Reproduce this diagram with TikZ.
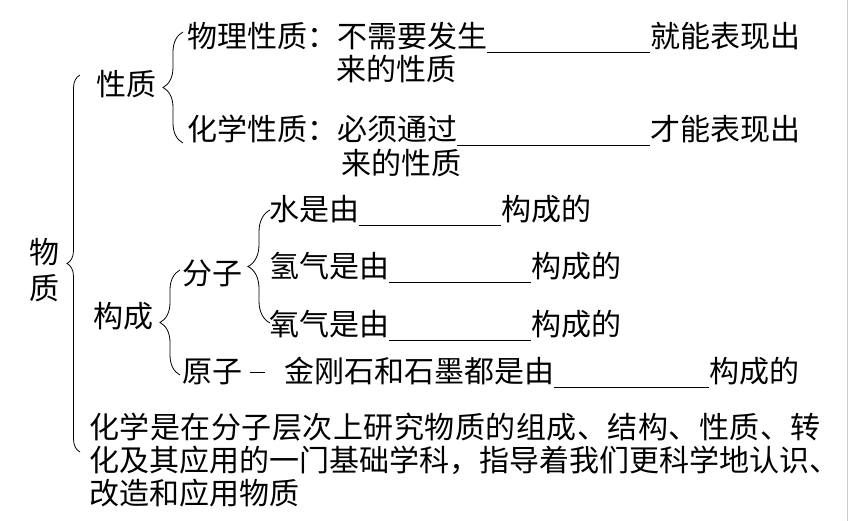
\documentclass[tikz,border=0pt]{standalone}
\usepackage{fontspec}
\newfontfamily\cjk{Noto Sans CJK SC}
\usetikzlibrary{decorations.pathreplacing,positioning}
\newcommand{\blank}[1]{\rule[-5pt]{#1pt}{0.8pt}}

\begin{document}
\begin{tikzpicture}[
  x=1pt, y=1pt,
  txt/.style={inner sep=0pt, anchor=base west, font=\cjk\fontsize{30}{33}\selectfont},
  brc/.style={decorate, decoration={brace, amplitude=#1}, line width=0.8pt},
  >=stealth
]
  \useasboundingbox (0,0) rectangle (854,521);

  % root and first level
  \node[txt, anchor=center, align=center, font=\cjk\fontsize{30}{36}\selectfont] (wz) at (44,251) {物\\质};
  \node[txt] (xz) at (96,425) {性质};
  \node[txt] (gc) at (93,193) {构成};

  % properties
  \node[txt] (wl) at (187,473) {物理性质：不需要发生\blank{163}就能表现出};
  \node[txt] (wl2) at (336,440) {来的性质};
  \node[txt] (hx) at (187,380) {化学性质：必须通过\blank{193}才能表现出};
  \node[txt] (hx2) at (341,346) {来的性质};

  % composition
  \node[txt] (fz) at (182,236) {分子};
  \node[txt] (yz) at (182,138) {原子};
  \node[txt] (sh) at (269,300) {水是由\blank{142}构成的};
  \node[txt] (qq) at (269,243) {氢气是由\blank{142}构成的};
  \node[txt] (yq) at (269,185) {氧气是由\blank{142}构成的};
  \node[txt] (jg) at (284,138) {金刚石和石墨都是由\blank{155}构成的};

  % closing paragraph (base = last line)
  \node[txt, align=left] (hxs) at (89,16)
      {{\addfontfeature{LetterSpace=1.7}化学是在分子层次上研究物质的组成、结构、性质、转}\\
       化及其应用的一门基础学科，指导着我们更科学地认识、\\
       改造和应用物质};

  % braces
  \draw[brc=13] (80,69) -- (80,446);
  \draw[brc=20] (183,378) -- (183,489);
  \draw[brc=20] (180,146) -- (180,251);
  \draw[brc=22] (270,198) -- (270,311);

  \draw[line width=1.6pt, shorten <=8pt, shorten >=19pt] (yz.east) -- (yz.east -| jg.west);

  % scan edge
  \draw[black!20, line width=0.6pt] (847,0) -- (847,521);
\end{tikzpicture}
\end{document}
